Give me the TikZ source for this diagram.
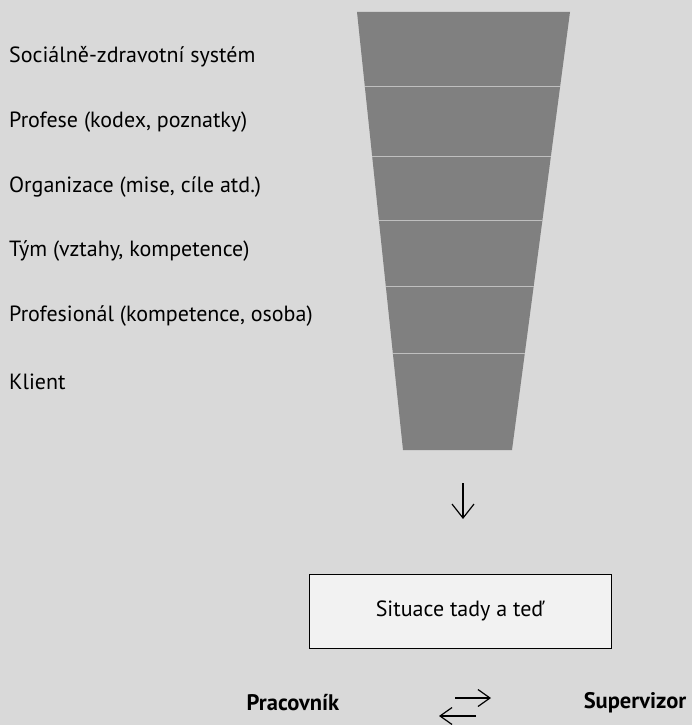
\documentclass[tikz,border=0pt]{standalone}
\usepackage{fontspec}
\setmainfont{PT Sans}
\usetikzlibrary{arrows.meta}
\definecolor{bg}{HTML}{D9D9D9}
\definecolor{funnel}{HTML}{808080}
\definecolor{divider}{HTML}{BFBFBF}
\definecolor{boxfill}{HTML}{F2F2F2}
\begin{document}
\begin{tikzpicture}[x=1pt,y=-1pt,
  lbl/.style={anchor=west,inner sep=0pt,font=\fontsize{22}{26}\selectfont},
  sep/.style={draw=divider,line width=1pt},
  situ/.style={draw=black,fill=boxfill,line width=0.8pt,minimum width=302pt,minimum height=74pt,font=\fontsize{22}{26}\selectfont},
  role/.style={inner sep=0pt,font=\fontsize{22.5}{26}\selectfont\bfseries},
  darr/.style={-{Straight Barb[length=14pt,width=22pt]},line width=1.2pt},
  harr/.style={-{Straight Barb[length=12pt,width=17pt]},line width=1.2pt}]
\fill[bg] (0,0) rectangle (692,725);
\useasboundingbox (0,0) rectangle (692,725);
% funnel
\fill[funnel] (357,12) -- (570,12) -- (512,450) -- (403,450) -- cycle;
\foreach \y in {86,156,220,286,353}{
  \pgfmathsetmacro{\t}{(\y-12)/438}
  \pgfmathsetmacro{\xl}{357+46*\t}
  \pgfmathsetmacro{\xr}{570-58*\t}
  \draw[sep] (\xl,\y) -- (\xr,\y);
}
% labels
\node[lbl] (l1) at (9,57) {Sociálně-zdravotní systém};
\node[lbl] (l2) at (9,122) {Profese (kodex, poznatky)};
\node[lbl] (l3) at (9,187) {Organizace (mise, cíle atd.)};
\node[lbl] (l4) at (9,251) {Tým (vztahy, kompetence)};
\node[lbl] (l5) at (9,316) {Profesionál (kompetence, osoba)};
\node[lbl] (l6) at (9,382) {Klient};
% down arrow
\coordinate (da) at (463,483);
\coordinate (db) at (463,519);
\draw[darr] (da) -- (db);
% box
\node[situ] (s) at (460,611) {Situace tady a teď};
% roles
\node[role] (p) at (293,703) {Pracovník};
\node[role] (v) at (635,703) {Supervizor};
\coordinate (r1) at (455,698);
\coordinate (r2) at (491,698);
\coordinate (q1) at (476,716);
\coordinate (q2) at (439,716);
\draw[harr] (r1) -- (r2);
\draw[harr] (q1) -- (q2);
\end{tikzpicture}
\end{document}
